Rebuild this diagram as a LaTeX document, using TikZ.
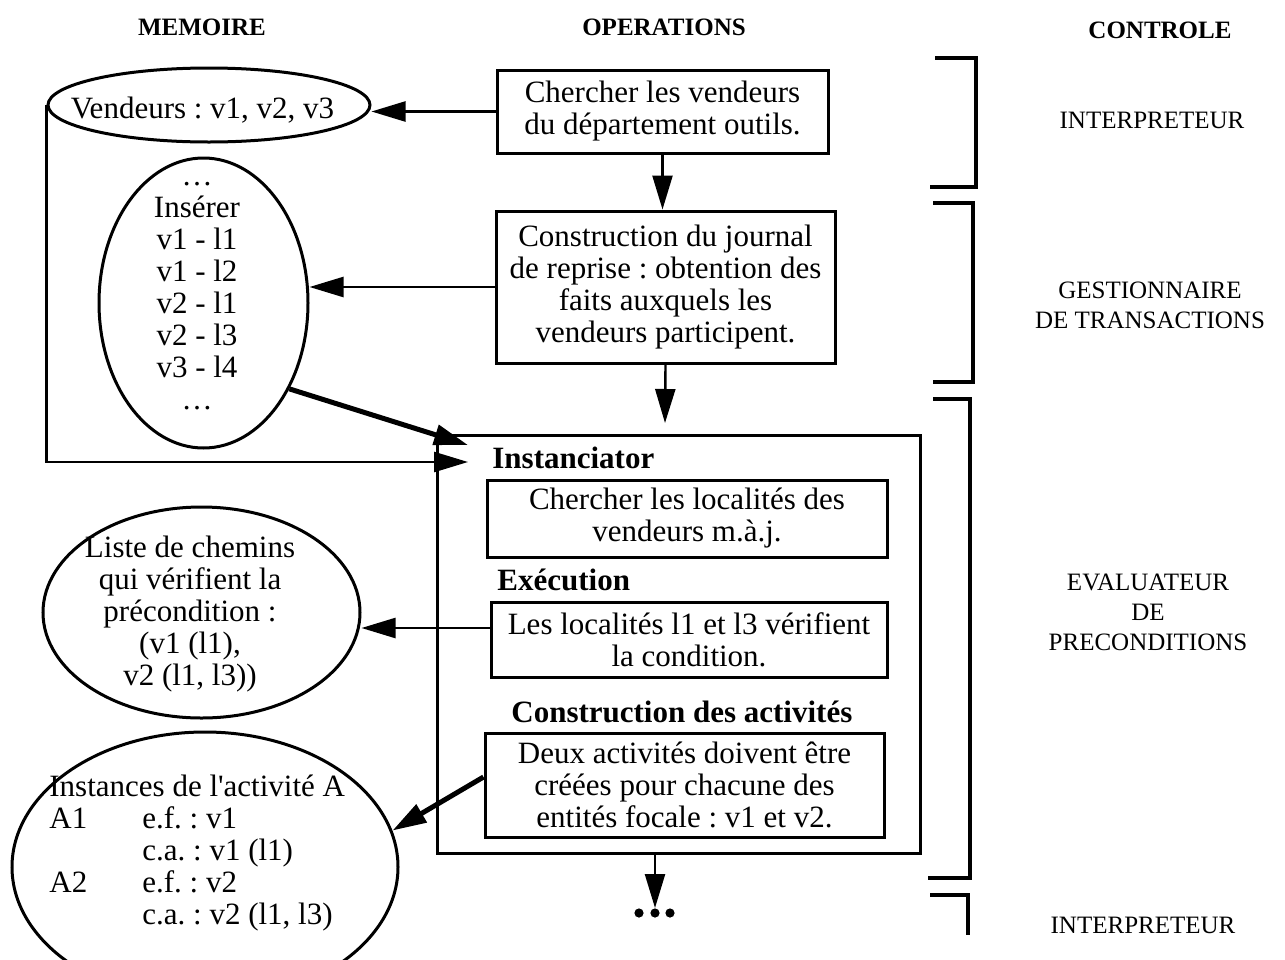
\documentclass[tikz,border=0pt]{standalone}
\usepackage{fontspec}
\setmainfont{Liberation Serif}
\usetikzlibrary{shapes.geometric,arrows.meta}
\frenchspacing

\tikzset{
  txt/.style={font=\fontsize{15.5}{16}\selectfont},
  opbox/.style={txt, draw, line width=1.5pt, align=center, inner sep=0pt},
  membub/.style={draw, ellipse, line width=1.5pt, inner sep=0pt},
  memtxt/.style={txt, align=center, inner sep=0pt},
  colhead/.style={font=\fontsize{12.5}{15}\selectfont\bfseries},
  ctrl/.style={font=\fontsize{12.5}{15}\selectfont, align=center},
  phase/.style={font=\fontsize{15.5}{16}\selectfont\bfseries, anchor=base west, inner sep=0pt},
  flow/.style={line width=1.2pt, -{Triangle[length=17pt,width=10pt]}},
  bigflow/.style={line width=2.5pt, -{Triangle[length=17pt,width=10pt]}},
  bracket/.style={line width=2pt}
}

\begin{document}
\begin{tikzpicture}[x=0.5pt,y=-0.5pt]
\useasboundingbox (0,0) rectangle (1285,959);
% Column heads
\node[colhead] (hmem) at (202,27) {MEMOIRE};
\node[colhead] (hop) at (664,27) {OPERATIONS};
\node[colhead] (hctl) at (1160,30) {CONTROLE};
% Operations
\node[opbox, minimum width=165.5pt, minimum height=41.5pt] (find) at (662.5,111.5) {Chercher les vendeurs\\du département outils.};
\node[opbox, minimum width=169.5pt, minimum height=76pt] (journal) at (665.5,287) {Construction du journal\\de reprise : obtention des\\faits auxquels les\\vendeurs participent.};
\node[opbox, minimum width=241.5pt, minimum height=209pt] (evalbox) at (678.5,644) {};
\node[phase] (tinst) at (492,468) {Instanciator};
\node[opbox, minimum width=200pt, minimum height=38.5pt] (inst) at (687,518.5) {Chercher les localités des\\vendeurs m.à.j.};
\node[phase] (texec) at (497,590) {Exécution};
\node[opbox, minimum width=198pt, minimum height=37.5pt] (exec) at (689,639.5) {Les localités l1 et l3 vérifient\\la condition.};
\node[phase] (tcons) at (511,722) {Construction des activités};
\node[opbox, minimum width=199.5pt, minimum height=52pt] (cons) at (684.5,785) {Deux activités doivent être\\créées pour chacune des\\entités focale : v1 et v2.};
\node[minimum size=4.6pt, inner sep=0pt] (dots) at (655,913) {};
\foreach \dx in {-16,0,15} \fill (dots.center) ++(\dx,0) circle (2.3pt);
% Memoire
\node[membub, minimum width=161pt, minimum height=37pt] (ven) at (209,105) {};
\node[memtxt] (ven-txt) at (202.5,110) {Vendeurs : v1, v2, v3};
\node[membub, minimum width=104.5pt, minimum height=145pt] (ins) at (203.5,303) {};
\node[memtxt] (ins-txt) at (197,296) {\ldots\\Insérer\\v1 - l1\\v1 - l2\\v2 - l1\\v2 - l3\\v3 - l4\\\ldots};
\node[membub, minimum width=158.5pt, minimum height=105.5pt] (paths) at (201.5,612.5) {};
\node[memtxt] (paths-txt) at (190,614) {Liste de chemins\\qui vérifient la\\précondition :\\(v1 (l1),\\v2 (l1, l3))};
\node[membub, minimum width=193pt, minimum height=135pt] (acts) at (205,867) {};
\node[memtxt, align=left, anchor=north west] (acts-txt) at (49,775) {Instances de l\textquotesingle activité A\\
  \makebox[46.5pt][l]{A1}e.f. : v1\\
  \makebox[46.5pt][l]{}c.a. : v1 (l1)\\
  \makebox[46.5pt][l]{A2}e.f. : v2\\
  \makebox[46.5pt][l]{}c.a. : v2 (l1, l3)};
% Arrows
\coordinate (jdown) at (665,423);
\coordinate (inA) at (468,445);
\coordinate (inB) at (468,462);
\draw[flow] (find.west) -- (find.west -| ven.east);
\draw[flow] (find.south) -- (find.south |- journal.north);
\draw[flow] (journal.west) -- (journal.west -| ins.east);
\draw[flow] (journal.south) -- (jdown);
\draw[bigflow] (ins.-45) -- (inA);
\draw[flow] (ven.west) |- (inB);
\draw[flow] ([yshift=5.75pt]exec.west) -- ([yshift=5.75pt]exec.west -| paths.east);
\draw[bigflow] ([yshift=4pt]cons.west) -- (acts.11);
\draw[flow] (dots.north |- evalbox.south) -- (dots.north);
% Controle
\draw[bracket] (935,58) -| (976,187) -- (930,187);
\draw[bracket] (933,203) -| (973,382) -- (933,382);
\draw[bracket] (933,399) -| (970,878) -- (928,878);
\draw[bracket] (930,895) -| (968,935);
\node[ctrl] (cinterp) at (1152,120) {INTERPRETEUR};
\node[ctrl] (ctrans) at (1150,305) {GESTIONNAIRE\\DE TRANSACTIONS};
\node[ctrl] (ceval) at (1148,612) {EVALUATEUR\\DE\\PRECONDITIONS};
\node[ctrl] (cinterp2) at (1143,925) {INTERPRETEUR};
\end{tikzpicture}
\end{document}
